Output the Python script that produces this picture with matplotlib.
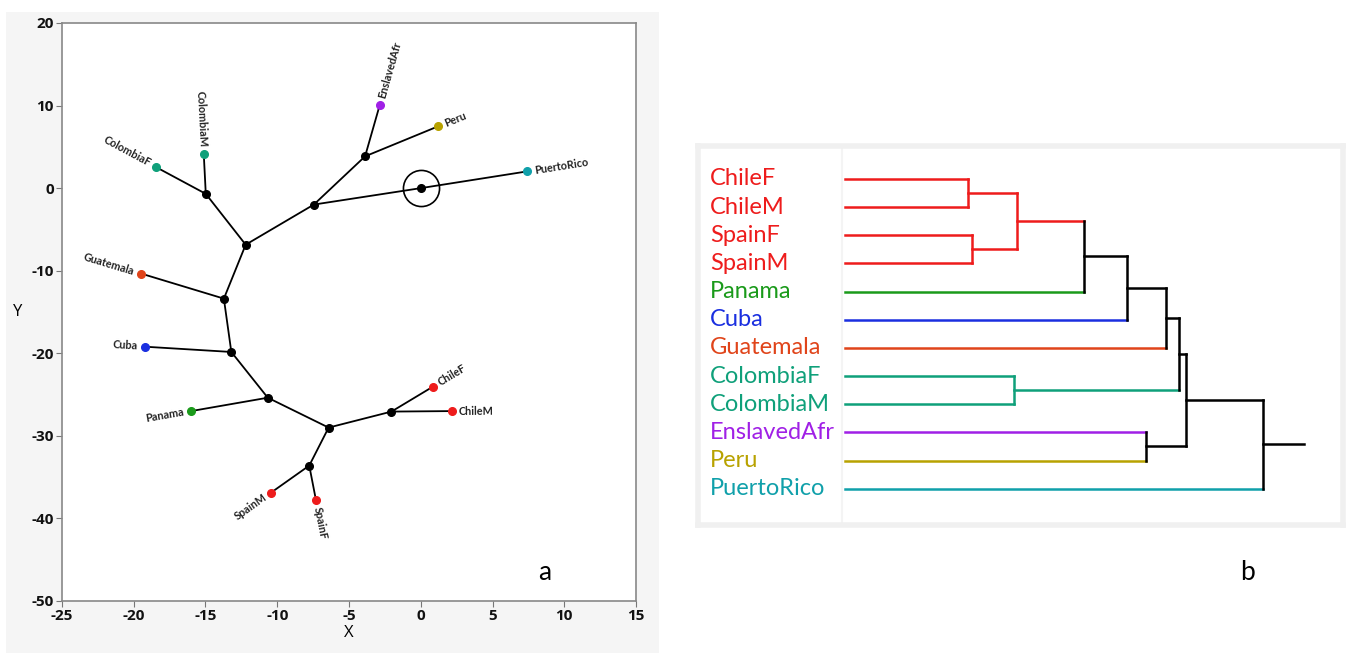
import numpy as np
import matplotlib.pyplot as plt
from matplotlib.patches import Rectangle

plt.rcParams['font.family'] = ['Lato', 'DejaVu Sans']
plt.rcParams['axes.unicode_minus'] = False

# ---- panel a: unrooted tree (coordinates) ----
leaf_names = ['EnslavedAfr', 'Peru', 'PuertoRico', 'ColombiaM', 'ColombiaF', 'Guatemala',
              'Cuba', 'Panama', 'ChileF', 'ChileM', 'SpainM', 'SpainF']
leaf_x = [-2.86, 1.23, 7.42, -15.12, -18.45, -19.5, -19.24, -16.0, 0.85, 2.16, -10.42, -7.3]
leaf_y = [10.05, 7.5, 2.03, 4.09, 2.55, -10.34, -19.2, -27.0, -24.04, -27.0, -36.86, -37.8]

node_names = ['root', 'A', 'B', 'C', 'D', 'E', 'F', 'G', 'H', 'I', 'J']
node_x = [0.0, -7.45, -3.88, -14.98, -12.2, -13.72, -13.2, -10.66, -6.42, -2.04, -7.77]
node_y = [0.0, -1.99, 3.85, -0.69, -6.85, -13.38, -19.84, -25.38, -29.0, -27.06, -33.6]

edges = [('root', 'A'), ('root', 'PuertoRico'), ('A', 'B'), ('B', 'EnslavedAfr'), ('B', 'Peru'),
         ('A', 'D'), ('D', 'C'), ('C', 'ColombiaF'), ('C', 'ColombiaM'), ('D', 'E'),
         ('E', 'Guatemala'), ('E', 'F'), ('F', 'Cuba'), ('F', 'G'), ('G', 'Panama'),
         ('G', 'H'), ('H', 'I'), ('I', 'ChileF'), ('I', 'ChileM'), ('H', 'J'),
         ('J', 'SpainM'), ('J', 'SpainF')]

colors = {'ChileF': '#ee1c1c', 'ChileM': '#ee1c1c', 'SpainF': '#ee1c1c', 'SpainM': '#ee1c1c',
          'Panama': '#1a9a1a', 'Cuba': '#1a2fe0', 'Guatemala': '#e0441a',
          'ColombiaF': '#0fa07a', 'ColombiaM': '#0fa07a', 'EnslavedAfr': '#a020e6',
          'Peru': '#b8a200', 'PuertoRico': '#10a0aa'}

# ---- panel b: dendrogram ----
dend_leaves = ['ChileF', 'ChileM', 'SpainF', 'SpainM', 'Panama', 'Cuba', 'Guatemala',
               'ColombiaF', 'ColombiaM', 'EnslavedAfr', 'Peru', 'PuertoRico']
# (child1, child2, height, link colour)
merges = [(0, 1, 12.28, '#ee1c1c'), (2, 3, 12.72, '#ee1c1c'), (12, 13, 17.15, '#ee1c1c'),
          (14, 4, 23.94, 'black'), (15, 5, 28.24, 'black'), (16, 6, 32.05, 'black'),
          (7, 8, 16.93, '#0fa07a'), (17, 18, 33.42, 'black'), (9, 10, 30.14, 'black'),
          (19, 20, 34.13, 'black'), (21, 11, 41.76, 'black')]
root_end = 45.88

W, H = 1355, 655
fig = plt.figure(figsize=(W / 100, H / 100), dpi=100)
fig.patches.append(Rectangle((6 / W, 1 - 653 / H), 653 / W, 641 / H, transform=fig.transFigure,
                             facecolor='#f5f5f5', edgecolor='none', zorder=-5))

ax = fig.add_axes([62 / W, 1 - 601 / H, 574 / W, 578 / H])
ax.set_xlim(-25, 15)
ax.set_ylim(-50, 20)

pts = dict(zip(leaf_names, zip(leaf_x, leaf_y)))
pts.update(dict(zip(node_names, zip(node_x, node_y))))
parent = {}
for a, b in edges:
    ax.plot([pts[a][0], pts[b][0]], [pts[a][1], pts[b][1]], color='black', lw=1.3, zorder=2)
    parent[b] = a

ax.plot(node_x, node_y, 'o', color='black', ms=5.5, zorder=3)
for name in leaf_names:
    x, y = pts[name]
    ax.plot(x, y, 'o', color=colors[name], ms=5.5, zorder=3)
    px, py = pts[parent[name]]
    d = ax.transData.transform([x, y]) - ax.transData.transform([px, py])
    ang = np.degrees(np.arctan2(d[1], d[0]))
    if -90 <= ang <= 90:
        rot, ha = ang, 'left'
    else:
        rot, ha = ang - 180 if ang > 0 else ang + 180, 'right'
    off = 5 * np.array([np.cos(np.radians(ang)), np.sin(np.radians(ang))])
    ax.annotate(name, (x, y), xytext=off, textcoords='offset points', rotation=rot,
                rotation_mode='anchor', ha=ha, va='center', fontsize=7.8,
                color='#222222', fontweight='bold')

ax.plot(0, 0, 'o', ms=26, mfc='none', mec='black', mew=1.2, zorder=3)

ax.set_xticks(range(-25, 16, 5))
ax.set_yticks(range(-50, 21, 10))
ax.tick_params(direction='out', length=4, color='#777777', labelsize=11, pad=2)
for lab in ax.get_xticklabels() + ax.get_yticklabels():
    lab.set_fontfamily(['Open Sans', 'DejaVu Sans'])
    lab.set_fontweight('bold')
    lab.set_color('#111111')
for s in ax.spines.values():
    s.set_color('#888888')
    s.set_linewidth(1.2)
ax.set_xlabel('X', fontsize=12, labelpad=1, family=['Open Sans', 'DejaVu Sans'])
ax.set_ylabel('Y', fontsize=12, rotation=0, va='center', family=['Open Sans', 'DejaVu Sans'])
ax.yaxis.set_label_coords(-0.078, 0.5)
ax.text(0.841, 0.05, 'a', transform=ax.transAxes, fontsize=19, ha='center', va='center')

# dendrogram
ax2 = fig.add_axes([698 / W, 1 - 525 / H, 645 / W, 379 / H])
ax2.set_xlim(-14.7, 49.8)
ax2.set_ylim(12.29, -1.17)
ax2.set_xticks([])
ax2.set_yticks([])
for s in ax2.spines.values():
    s.set_color('#f0f0f0')
    s.set_linewidth(4)
ax2.axvline(-0.3, color='#f4f4f4', lw=1.5)

pos = {i: (0.0, float(i)) for i in range(len(dend_leaves))}
lcol = {i: colors[n] for i, n in enumerate(dend_leaves)}
for k, (a, b, h, c) in enumerate(merges):
    nid = len(dend_leaves) + k
    for ch in (a, b):
        ax2.plot([pos[ch][0], h], [pos[ch][1], pos[ch][1]], color=lcol[ch], lw=1.8)
    ax2.plot([h, h], [pos[a][1], pos[b][1]], color=c, lw=1.8)
    pos[nid] = (h, (pos[a][1] + pos[b][1]) / 2)
    lcol[nid] = c
top = len(dend_leaves) + len(merges) - 1
ax2.plot([pos[top][0], root_end], [pos[top][1], pos[top][1]], color='black', lw=1.8)

for i, n in enumerate(dend_leaves):
    ax2.text(-13.5, i, n, color=colors[n], fontsize=17, va='center', ha='left')

fig.text(1248 / W, 1 - 572 / H, 'b', fontsize=19, ha='center', va='center')

fig.savefig('out.png', dpi=100)
